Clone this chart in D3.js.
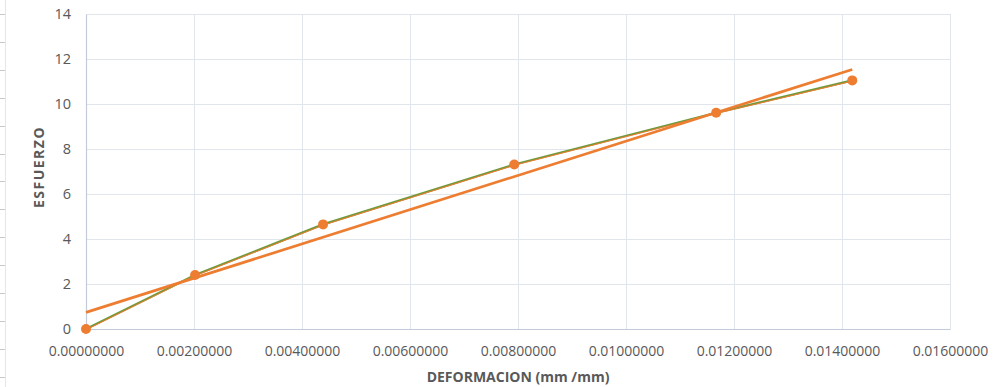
<!DOCTYPE html>
<html>
<head>
<meta charset="utf-8">
<script src="https://cdn.jsdelivr.net/npm/d3@7"></script>
<style>
  html, body { margin: 0; padding: 0; background: #ffffff; }
  svg { display: block; }
  text { font-family: "Open Sans", "Liberation Sans", sans-serif; }
</style>
</head>
<body>
<svg id="chart" width="994" height="387"></svg>
<script>
// Strain (mm/mm) vs. stress measurements
const deformacion = [0, 0.00202, 0.00439, 0.00793, 0.01167, 0.01419];
const esfuerzo    = [0, 2.40, 4.65, 7.31, 9.61, 11.05];

const xTicks = [0, 0.002, 0.004, 0.006, 0.008, 0.010, 0.012, 0.014, 0.016];
const yTicks = [0, 2, 4, 6, 8, 10, 12, 14];

const xTitle = "DEFORMACION (mm /mm)";
const yTitle = "ESFUERZO";

const svg = d3.select("#chart");
const margin = { left: 86, top: 14, right: 44, bottom: 58 };
const W = 994, H = 387;

const x = d3.scaleLinear().domain([0, 0.016]).range([margin.left, W - margin.right]);
const y = d3.scaleLinear().domain([0, 14]).range([H - margin.bottom, margin.top]);

const textCol = "#595959";
const gridCol = "#e1e5ec";
const axisCol = "#c3cbd9";

// spreadsheet edge on the far left
const edge = svg.append("g");
edge.append("line").attr("x1", 5.5).attr("x2", 5.5).attr("y1", 0).attr("y2", H)
  .attr("stroke", "#e3e6ea").attr("stroke-width", 1);
d3.range(14, H, 27.9).forEach(v => {
  edge.append("line").attr("x1", 0).attr("x2", 5).attr("y1", Math.round(v) + 0.5).attr("y2", Math.round(v) + 0.5)
    .attr("stroke", "#c8c8c8").attr("stroke-width", 1);
});

// gridlines
const grid = svg.append("g");
grid.selectAll("line.h").data(yTicks.filter(d => d > 0)).join("line")
  .attr("x1", x(0)).attr("x2", x(0.016))
  .attr("y1", d => Math.round(y(d)) + 0.5).attr("y2", d => Math.round(y(d)) + 0.5)
  .attr("stroke", gridCol).attr("stroke-width", 1);
grid.selectAll("line.v").data(xTicks.filter(d => d > 0)).join("line")
  .attr("y1", y(0)).attr("y2", y(14))
  .attr("x1", d => Math.round(x(d)) + 0.5).attr("x2", d => Math.round(x(d)) + 0.5)
  .attr("stroke", gridCol).attr("stroke-width", 1);

// axes
const xAxis = d3.axisBottom(x).tickValues(xTicks).tickSize(0).tickPadding(17)
  .tickFormat(d => d.toFixed(8));
const gx = svg.append("g").attr("transform", `translate(0,${y(0)})`).call(xAxis);
gx.select(".domain").attr("stroke", axisCol).attr("stroke-width", 1.2);
gx.selectAll("text").attr("fill", textCol).attr("font-size", 14);

const yAxis = d3.axisLeft(y).tickValues(yTicks).tickSize(0).tickPadding(15);
const gy = svg.append("g").attr("transform", `translate(${x(0)},0)`).call(yAxis);
gy.select(".domain").attr("stroke", axisCol).attr("stroke-width", 1.2);
gy.selectAll("text").attr("fill", textCol).attr("font-size", 14.5);

// axis titles
svg.append("text").attr("x", 518).attr("y", 382).attr("text-anchor", "middle")
  .attr("font-size", 14).attr("font-weight", "bold").attr("fill", textCol).text(xTitle);
svg.append("text").attr("transform", "translate(44,167) rotate(-90)").attr("text-anchor", "middle")
  .attr("font-size", 14).attr("font-weight", "bold").attr("letter-spacing", 1.5)
  .attr("fill", textCol).text(yTitle);

const pts = deformacion.map((d, i) => [d, esfuerzo[i]]);

// connecting line of the measurements
const line = d3.line().x(d => x(d[0])).y(d => y(d[1]));
svg.append("path").datum(pts).attr("d", line)
  .attr("fill", "none").attr("stroke", "#6f9a3c").attr("stroke-width", 2.2);
svg.append("path").datum(pts).attr("d", line).attr("transform", "translate(0,0.8)")
  .attr("fill", "none").attr("stroke", "#ed7d31").attr("stroke-width", 1);

// linear trendline (least squares) over the measured range
const mx = d3.mean(deformacion), my = d3.mean(esfuerzo);
const slope = d3.sum(pts, p => (p[0] - mx) * (p[1] - my)) / d3.sum(pts, p => (p[0] - mx) ** 2);
const intercept = my - slope * mx;
const xEnd = d3.max(deformacion);
svg.append("line")
  .attr("x1", x(0)).attr("y1", y(intercept))
  .attr("x2", x(xEnd)).attr("y2", y(intercept + slope * xEnd))
  .attr("stroke", "#ed7d31").attr("stroke-width", 2.7);

// markers
svg.append("g").selectAll("circle").data(pts).join("circle")
  .attr("cx", d => x(d[0])).attr("cy", d => y(d[1])).attr("r", 5)
  .attr("fill", "#ed7d31");
</script>
</body>
</html>
